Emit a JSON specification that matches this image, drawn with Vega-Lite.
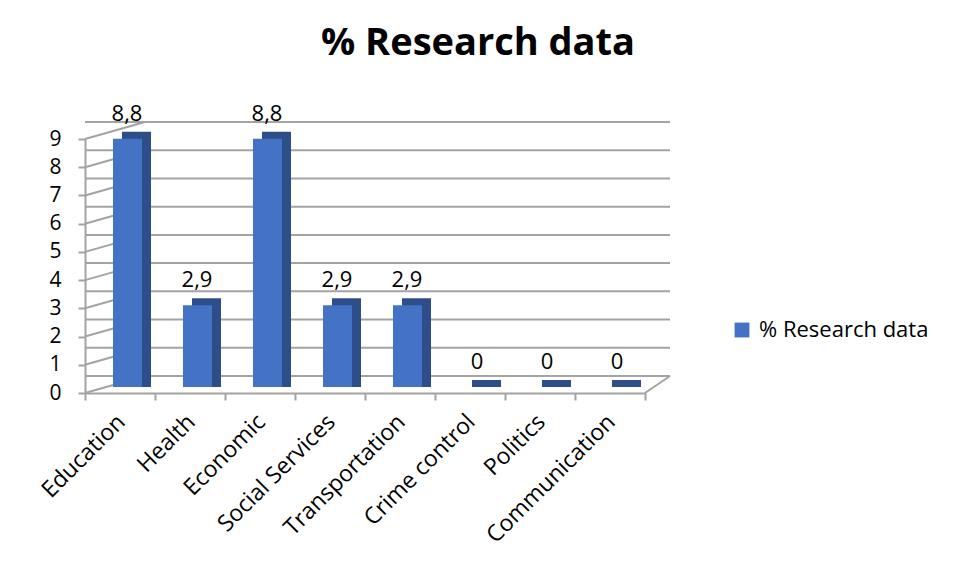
{
  "$schema": "https://vega.github.io/schema/vega-lite/v6.json",
  "width": 560,
  "height": 254,
  "autosize": {"type": "none"},
  "padding": {"left": 85, "top": 139, "right": 316, "bottom": 184},
  "background": "white",
  "config": {
    "font": "Open Sans",
    "view": {"stroke": null},
    "locale": {"number": {"decimal": ",", "thousands": ".", "grouping": [3], "currency": ["", " €"]}},
    "axisY": {
      "title": null, "tickCount": 10, "labelOverlap": false, "labelFontSize": 21, "labelColor": "#000000",
      "tickSize": 7, "tickColor": "#a3a3a3", "tickWidth": 2, "domainColor": "#a3a3a3", "domainWidth": 2,
      "grid": false, "labelPadding": 17, "labelFlush": false
    },
    "axisX": {
      "title": null, "labelAngle": -45, "labelAlign": "right", "labelBaseline": "middle",
      "labelFontSize": 23, "labelColor": "#000000", "labelPadding": 18, "labelOffset": 1,
      "tickBand": "extent", "tickSize": 7, "tickColor": "#a3a3a3", "tickWidth": 2,
      "domainColor": "#a3a3a3", "domainWidth": 2, "grid": false, "labelLimit": 300
    }
  },
  "title": {"text": "% Research data", "fontSize": 38, "fontWeight": "bold", "font": "Open Sans", "color": "#000000", "anchor": "middle", "frame": "group", "dx": 113, "offset": 40},
  "datasets": {
    "bars": [
      {"category": "Education", "value": 8.8, "series": "% Research data"},
      {"category": "Health", "value": 2.9, "series": "% Research data"},
      {"category": "Economic", "value": 8.8, "series": "% Research data"},
      {"category": "Social Services", "value": 2.9, "series": "% Research data"},
      {"category": "Transportation", "value": 2.9, "series": "% Research data"},
      {"category": "Crime control", "value": 0, "series": "% Research data"},
      {"category": "Politics", "value": 0, "series": "% Research data"},
      {"category": "Communication", "value": 0, "series": "% Research data"}
    ],
    "grid": [{"v": 0}, {"v": 1}, {"v": 2}, {"v": 3}, {"v": 4}, {"v": 5}, {"v": 6}, {"v": 7}, {"v": 8}, {"v": 9}],
    "floor": [{"v": 0}]
  },
  "layer": [
    {
      "data": {"name": "grid"},
      "mark": {"type": "rule", "color": "#a3a3a3", "strokeWidth": 2, "xOffset": 25, "x2Offset": 25, "yOffset": -17},
      "encoding": {
        "y": {"field": "v", "type": "quantitative", "scale": {"domain": [0, 9]}, "axis": {"values": [0, 1, 2, 3, 4, 5, 6, 7, 8, 9]}}
      }
    },
    {
      "data": {"name": "grid"},
      "mark": {"type": "rule", "color": "#a3a3a3", "strokeWidth": 2, "x2Offset": 25, "y2Offset": -17},
      "encoding": {
        "x": {"datum": "Education", "type": "nominal", "bandPosition": 0, "scale": {"domain": ["Education", "Health", "Economic", "Social Services", "Transportation", "Crime control", "Politics", "Communication"], "paddingInner": 0, "paddingOuter": 0}},
        "x2": {"datum": "Education"},
        "y": {"field": "v", "type": "quantitative", "scale": {"domain": [0, 9]}, "axis": {"values": [0, 1, 2, 3, 4, 5, 6, 7, 8, 9]}},
        "y2": {"field": "v"}
      }
    },
    {
      "data": {"name": "floor"},
      "mark": {"type": "rule", "color": "#a3a3a3", "strokeWidth": 2, "x2Offset": 60, "y2Offset": -17},
      "encoding": {
        "x": {"datum": "Communication", "type": "nominal", "bandPosition": 1},
        "x2": {"datum": "Communication"},
        "y": {"field": "v", "type": "quantitative", "scale": {"domain": [0, 9]}, "axis": {"values": [0, 1, 2, 3, 4, 5, 6, 7, 8, 9]}},
        "y2": {"field": "v"}
      }
    },
    {
      "data": {"name": "bars"},
      "mark": {"type": "bar", "color": "#2E4E8A", "width": 29, "xOffset": 16.5, "yOffset": -13, "y2Offset": -6},
      "encoding": {
        "x": {"field": "category", "type": "nominal", "sort": null},
        "y": {"field": "value", "type": "quantitative", "scale": {"domain": [0, 9]}, "axis": {"values": [0, 1, 2, 3, 4, 5, 6, 7, 8, 9]}},
        "y2": {"datum": 0}
      }
    },
    {
      "data": {"name": "bars"},
      "mark": {"type": "bar", "width": 29, "xOffset": 7.5, "yOffset": -6},
      "encoding": {
        "x": {"field": "category", "type": "nominal", "sort": null},
        "y": {"field": "value", "type": "quantitative", "scale": {"domain": [0, 9]}, "axis": {"values": [0, 1, 2, 3, 4, 5, 6, 7, 8, 9]}},
        "color": {
          "field": "series", "type": "nominal",
          "scale": {"range": ["#4472C4"]},
          "legend": {"title": null, "orient": "none", "legendX": 646, "legendY": 180, "symbolType": "square", "symbolSize": 220, "labelFontSize": 22, "labelColor": "#000000", "symbolStrokeWidth": 0, "labelLimit": 300, "labelOffset": 6}
        }
      }
    },
    {
      "data": {"name": "bars"},
      "mark": {"type": "text", "fontSize": 22, "color": "#000000", "xOffset": 7, "yOffset": -24, "baseline": "alphabetic"},
      "encoding": {
        "x": {"field": "category", "type": "nominal", "sort": null},
        "y": {"field": "value", "type": "quantitative", "scale": {"domain": [0, 9]}, "axis": {"values": [0, 1, 2, 3, 4, 5, 6, 7, 8, 9]}},
        "text": {"field": "value", "type": "quantitative", "format": "~g"}
      }
    }
  ]
}
